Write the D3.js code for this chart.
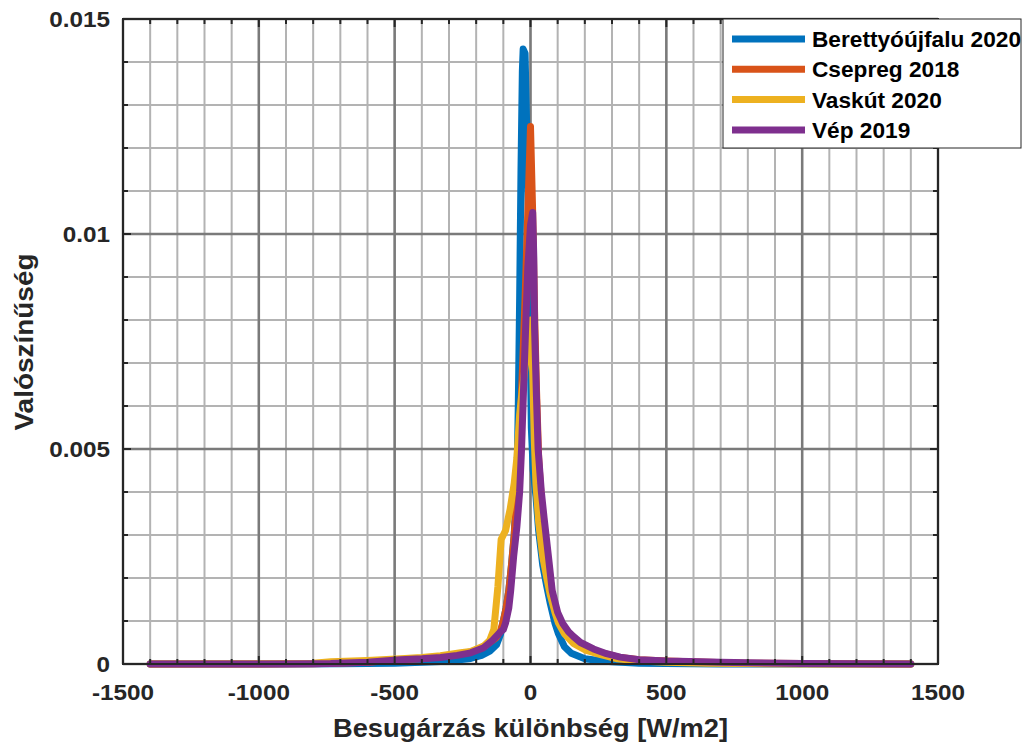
<!DOCTYPE html>
<html><head><meta charset="utf-8">
<script src="https://cdn.jsdelivr.net/npm/d3@7"></script>
<style>body{margin:0;background:#fff}svg{display:block}text{font-family:"Liberation Sans",Arial,sans-serif;font-weight:bold;fill:#262626}</style>
</head><body><svg id="c" width="1026" height="744"></svg>
<script>
// ---- data ----
const seriesNames = ["Berettyóújfalu 2020","Csepreg 2018","Vaskút 2020","Vép 2019"];
const seriesColors = ["#0072BD","#D95319","#EDB120","#7E2F8E"];

const xBeretty = [-1400,-1000,-700,-500,-400,-330,-270,-220,-180,-150,-125,-110,-100,-90,-80,-70,-60,-50,-45,-40,-35,-30,-27,-20,-14,-7,-2,0,3,10,20,30,45,60,73,90,103,125,150,200,250,300,400,500,700,1000,1400];
const yBeretty = [0,0,0.000005,0.00002,0.00004,0.00006,0.00009,0.00013,0.0002,0.0003,0.00045,0.0007,0.001,0.0013,0.0017,0.0023,0.003,0.0042,0.006,0.0085,0.0115,0.0138,0.0143,0.0142,0.0125,0.0101,0.0085,0.007,0.0055,0.0045,0.0039,0.0031,0.0023,0.0018,0.0014,0.00095,0.0007,0.0004,0.00025,0.00012,0.00008,0.00005,0.00002,0.00001,0,0,0];

const xCsepreg = [-1400,-1000,-800,-600,-500,-400,-300,-220,-180,-150,-125,-110,-100,-90,-80,-70,-60,-50,-40,-30,-20,-10,0,8,15,22,30,40,50,66,80,100,120,150,200,250,330,400,500,650,800,1000,1400];
const yCsepreg = [0,0,0.000008,0.00004,0.00009,0.00013,0.0002,0.00028,0.00038,0.0005,0.00062,0.00078,0.001,0.0013,0.0017,0.0023,0.003,0.004,0.0052,0.0068,0.0085,0.0105,0.0125,0.0105,0.0082,0.0064,0.0048,0.0038,0.0031,0.0023,0.0016,0.0011,0.00085,0.0006,0.0004,0.00028,0.00015,0.0001,0.00007,0.00004,0.00002,0.00001,0];

const xVaskut = [-1400,-1000,-800,-735,-600,-478,-400,-331,-257,-220,-172,-150,-135,-120,-108,-100,-92,-75,-60,-50,-40,-30,-20,-10,0,8,14,20,30,45,60,73,90,103,125,158,200,240,320,400,500,650,800,1000,1400];
const yVaskut = [0,0.000005,0.00002,0.00005,0.00008,0.00012,0.00015,0.00019,0.00026,0.00029,0.00042,0.00055,0.0008,0.0018,0.0029,0.003,0.0031,0.0036,0.0042,0.0048,0.0058,0.0064,0.0069,0.0075,0.008,0.0068,0.0052,0.0042,0.0033,0.0025,0.002,0.0016,0.0012,0.00095,0.0007,0.00048,0.00033,0.00025,0.00012,0.00007,0.00004,0.00002,0.00001,0,0];

const xVep = [-1400,-1000,-800,-735,-600,-478,-400,-331,-270,-220,-172,-140,-110,-100,-92,-80,-73,-62,-50,-40,-33,-25,-18,-10,0,8,12,15,22,28,40,50,66,80,100,118,140,158,184,232,280,330,400,500,625,700,800,1000,1400];
const yVep = [0,0,0.000005,0.00001,0.00004,0.0001,0.00012,0.00015,0.0002,0.00026,0.00038,0.00055,0.00075,0.0008,0.00095,0.0013,0.0017,0.0025,0.0032,0.004,0.005,0.0065,0.0078,0.0092,0.0102,0.0105,0.0095,0.0078,0.0062,0.005,0.004,0.0034,0.0025,0.0017,0.0012,0.00095,0.00075,0.00064,0.0005,0.00035,0.00024,0.00016,0.0001,0.00007,0.00005,0.00004,0.00003,0.00001,0];

const xTicks = [-1500,-1000,-500,0,500,1000,1500];
const yTicks = [0,0.005,0.01,0.015];
const yTickLabels = ["0","0.005","0.01","0.015"];
const xTitle = "Besugárzás különbség [W/m2]";
const yTitle = "Valószínűség";

// ---- chart ----
const svg = d3.select("#c");
const L = 123, R = 938, T = 19, B = 664;
const x = d3.scaleLinear().domain([-1500,1500]).range([L,R]);
const y = d3.scaleLinear().domain([0,0.015]).range([B,T]);

const xMinor = d3.range(-1500,1501,100);
const yMinor = d3.range(0,16).map(i=>i*0.001);

const g = svg.append("g");
g.selectAll(".vmin").data(xMinor).join("line")
  .attr("x1",d=>x(d)).attr("x2",d=>x(d)).attr("y1",T).attr("y2",B)
  .attr("stroke","#b3b3b3").attr("stroke-width",2);
g.selectAll(".hmin").data(yMinor).join("line")
  .attr("y1",d=>y(d)).attr("y2",d=>y(d)).attr("x1",L).attr("x2",R)
  .attr("stroke","#b3b3b3").attr("stroke-width",2);
g.selectAll(".vmaj").data(xTicks).join("line")
  .attr("x1",d=>x(d)).attr("x2",d=>x(d)).attr("y1",T).attr("y2",B)
  .attr("stroke","#7a7a7a").attr("stroke-width",2.5);
g.selectAll(".hmaj").data(yTicks).join("line")
  .attr("y1",d=>y(d)).attr("y2",d=>y(d)).attr("x1",L).attr("x2",R)
  .attr("stroke","#7a7a7a").attr("stroke-width",2.5);

// series
const xs = [xBeretty,xCsepreg,xVaskut,xVep];
const ys = [yBeretty,yCsepreg,yVaskut,yVep];
const line = d3.line().x(d=>x(d[0])).y(d=>y(d[1]));
xs.forEach((xa,i)=>{
  const pts = xa.map((v,j)=>[v,ys[i][j]]);
  svg.append("path").datum(pts).attr("d",line)
    .attr("fill","none").attr("stroke",seriesColors[i]).attr("stroke-width",7)
    .attr("stroke-linejoin","round").attr("stroke-linecap","round");
});

// axes box + inward ticks
const ax = svg.append("g");
ax.append("rect").attr("x",L).attr("y",T).attr("width",R-L).attr("height",B-T)
  .attr("fill","none").attr("stroke","#262626").attr("stroke-width",2);
ax.selectAll(".xtb").data(xMinor).join("line")
  .attr("x1",d=>x(d)).attr("x2",d=>x(d)).attr("y1",B).attr("y2",d=>B-(xTicks.includes(d)?8:5))
  .attr("stroke","#262626").attr("stroke-width",2);
ax.selectAll(".xtt").data(xMinor).join("line")
  .attr("x1",d=>x(d)).attr("x2",d=>x(d)).attr("y1",T).attr("y2",d=>T+(xTicks.includes(d)?8:5))
  .attr("stroke","#262626").attr("stroke-width",2);
const isMajY = d => yTicks.some(t=>Math.abs(t-d)<1e-9);
ax.selectAll(".ytl").data(yMinor).join("line")
  .attr("y1",d=>y(d)).attr("y2",d=>y(d)).attr("x1",L).attr("x2",d=>L+(isMajY(d)?8:5))
  .attr("stroke","#262626").attr("stroke-width",2);
ax.selectAll(".ytr").data(yMinor).join("line")
  .attr("y1",d=>y(d)).attr("y2",d=>y(d)).attr("x1",R).attr("x2",d=>R-(isMajY(d)?8:5))
  .attr("stroke","#262626").attr("stroke-width",2);

// tick labels (slightly widened to match reference glyphs)
svg.selectAll(".xl").data(xTicks).join("text")
  .attr("transform",d=>`translate(${x(d)},700) scale(1.13,1)`).attr("text-anchor","middle")
  .attr("font-size",21.5).text(d=>d);
svg.selectAll(".yl").data(yTicks).join("text")
  .attr("transform",d=>`translate(110,${y(d)+7.5}) scale(1.13,1)`).attr("text-anchor","end")
  .attr("font-size",21.5).text((d,i)=>yTickLabels[i]);

// titles
svg.append("text").attr("x",(L+R)/2).attr("y",737).attr("text-anchor","middle")
  .attr("font-size",25).attr("textLength",395).attr("lengthAdjust","spacingAndGlyphs").text(xTitle);
svg.append("text").attr("transform","translate(33,342) rotate(-90)").attr("text-anchor","middle")
  .attr("font-size",25).attr("textLength",177).attr("lengthAdjust","spacingAndGlyphs").text(yTitle);

// legend
const lg = svg.append("g");
lg.append("rect").attr("x",723).attr("y",19).attr("width",298).attr("height",129)
  .attr("fill","#fff").attr("stroke","#262626").attr("stroke-width",1);
seriesNames.forEach((n,i)=>{
  const cy = 39 + i*30.3;
  lg.append("line").attr("x1",732).attr("x2",805).attr("y1",cy).attr("y2",cy)
    .attr("stroke",seriesColors[i]).attr("stroke-width",7);
  lg.append("text").attr("transform",`translate(812,${cy+8}) scale(1.03,1)`)
    .attr("font-size",22).style("fill","#000").text(n);
});
</script></body></html>
